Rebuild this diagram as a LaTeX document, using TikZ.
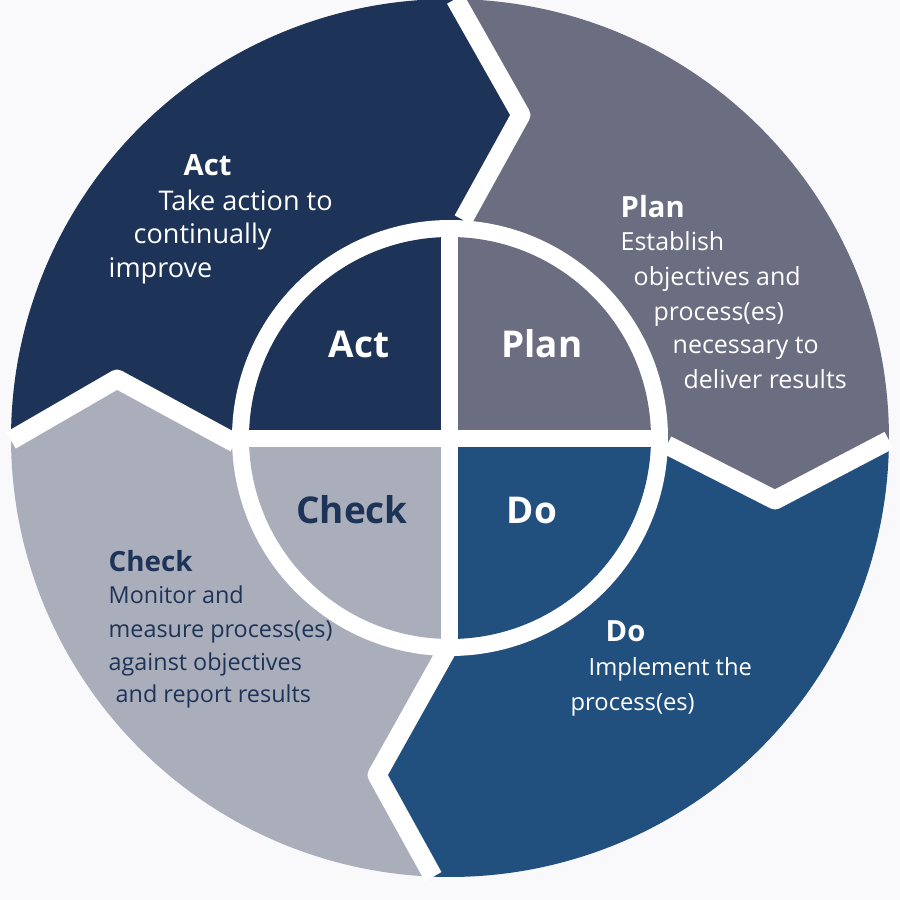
\documentclass[tikz,border=0pt]{standalone}
\usepackage{fontspec}
\setmainfont{Open Sans}
\definecolor{actc}{RGB}{30,51,88}
\definecolor{planc}{RGB}{107,110,128}
\definecolor{doc}{RGB}{33,80,127}
\definecolor{checkc}{RGB}{170,174,187}
\definecolor{bgc}{RGB}{249,249,251}
\begin{document}
\begin{tikzpicture}[
  gap/.style={draw=white, line width=0.19cm, line join=round},
  body/.style={anchor=base west, inner sep=0pt, font=\fontsize{#1}{9}\selectfont},
  body/.default=6.75,
  head/.style={anchor=base west, inner sep=0pt, font=\fontsize{8.3}{9}\selectfont\bfseries},
  big/.style={anchor=base, inner sep=0pt, font=\fontsize{10.5}{12}\selectfont\bfseries}]
\useasboundingbox[fill=bgc] (-4.5,-4.62) rectangle (4.5,4.38);

% chevron boundaries: inner, tip, outer
\coordinate (ap1) at (0.13,2.18);
\coordinate (ap2) at (0.71,3.23);
\coordinate (ap3) at (89.3:4.39);
\coordinate (pd1) at (2.17,-0.07);
\coordinate (pd2) at (3.25,-0.62);
\coordinate (pd3) at (-0.3:4.39);
\coordinate (dc1) at (-0.03,-2.12);
\coordinate (dc2) at (-0.73,-3.37);
\coordinate (dc3) at (-92.2:4.39);
\coordinate (ca1) at (-2.15,-0.05);
\coordinate (ca2) at (-3.33,0.59);
\coordinate (ca3) at (180.3:4.39);

% outer segments
\fill[actc] (0,0) -- (ca1) -- (ca2) -- (ca3) arc[start angle=180.3, end angle=89.3, radius=4.39] -- (ap2) -- (ap1) -- cycle;
\fill[planc] (0,0) -- (ap1) -- (ap2) -- (ap3) arc[start angle=89.3, end angle=-0.3, radius=4.39] -- (pd2) -- (pd1) -- cycle;
\fill[doc] (0,0) -- (pd1) -- (pd2) -- (pd3) arc[start angle=-0.3, end angle=-92.2, radius=4.39] -- (dc2) -- (dc1) -- cycle;
\fill[checkc] (0,0) -- (dc1) -- (dc2) -- (dc3) arc[start angle=-92.2, end angle=-179.7, radius=4.39] -- (ca2) -- (ca1) -- cycle;

\path[draw,gap] (ap1) -- (ap2) -- (ap3);
\path[draw,gap] (pd1) -- (pd2) -- (pd3);
\path[draw,gap] (dc1) -- (dc2) -- (dc3);
\path[draw,gap] (ca1) -- (ca2) -- (ca3);

% inner wheel
\fill[white] (0,0) circle (2.18);
\fill[actc] (0,0) -- (180:2.01) arc[start angle=180, end angle=90, radius=2.01] -- cycle;
\fill[planc] (0,0) -- (90:2.01) arc[start angle=90, end angle=0, radius=2.01] -- cycle;
\fill[doc] (0,0) -- (0:2.01) arc[start angle=0, end angle=-90, radius=2.01] -- cycle;
\fill[checkc] (0,0) -- (-90:2.01) arc[start angle=-90, end angle=-180, radius=2.01] -- cycle;
\path[draw,gap,line width=0.17cm] (-2.1,0) -- (2.1,0);
\path[draw,gap,line width=0.17cm] (0,-2.1) -- (0,2.1);

\node[big,white] (iact) at (-0.91,0.81) {Act};
\node[big,white] (iplan) at (0.92,0.81) {Plan};
\node[big,actc] (icheck) at (-0.98,-0.85) {Check};
\node[big,white] (ido) at (0.82,-0.85) {Do};

% outer texts
\node[head,white] (acth) at (-2.67,2.63) {Act};
\node[body=7.7,white] (act1) at (-2.92,2.28) {Take action to};
\node[body=7.7,white] (act2) at (-3.17,1.95) {continually};
\node[body=7.7,white] (act3) at (-3.42,1.61) {improve};

\node[head,white] (planh) at (1.70,2.21) {Plan};
\node[body=7.1,white] (plan1) at (1.70,1.88) {Establish};
\node[body=7.1,white] (plan2) at (1.83,1.53) {objectives and};
\node[body=7.1,white] (plan3) at (2.03,1.18) {process(es)};
\node[body=7.1,white] (plan4) at (2.22,0.85) {necessary to};
\node[body=7.1,white] (plan5) at (2.33,0.50) {deliver results};

\node[head,actc,font=\fontsize{7.9}{9}\selectfont\bfseries] (checkh) at (-3.42,-1.33) {Check};
\node[body=6.65,actc] (check1) at (-3.42,-1.65) {Monitor and};
\node[body=6.65,actc] (check2) at (-3.42,-1.99) {measure process(es)};
\node[body=6.65,actc] (check3) at (-3.42,-2.32) {against objectives};
\node[body=6.65,actc] (check4) at (-3.35,-2.64) {and report results};

\node[head,white] (doh) at (1.55,-2.03) {Do};
\node[body,white] (do1) at (1.38,-2.37) {Implement the};
\node[body,white] (do2) at (1.20,-2.72) {process(es)};
\end{tikzpicture}
\end{document}
